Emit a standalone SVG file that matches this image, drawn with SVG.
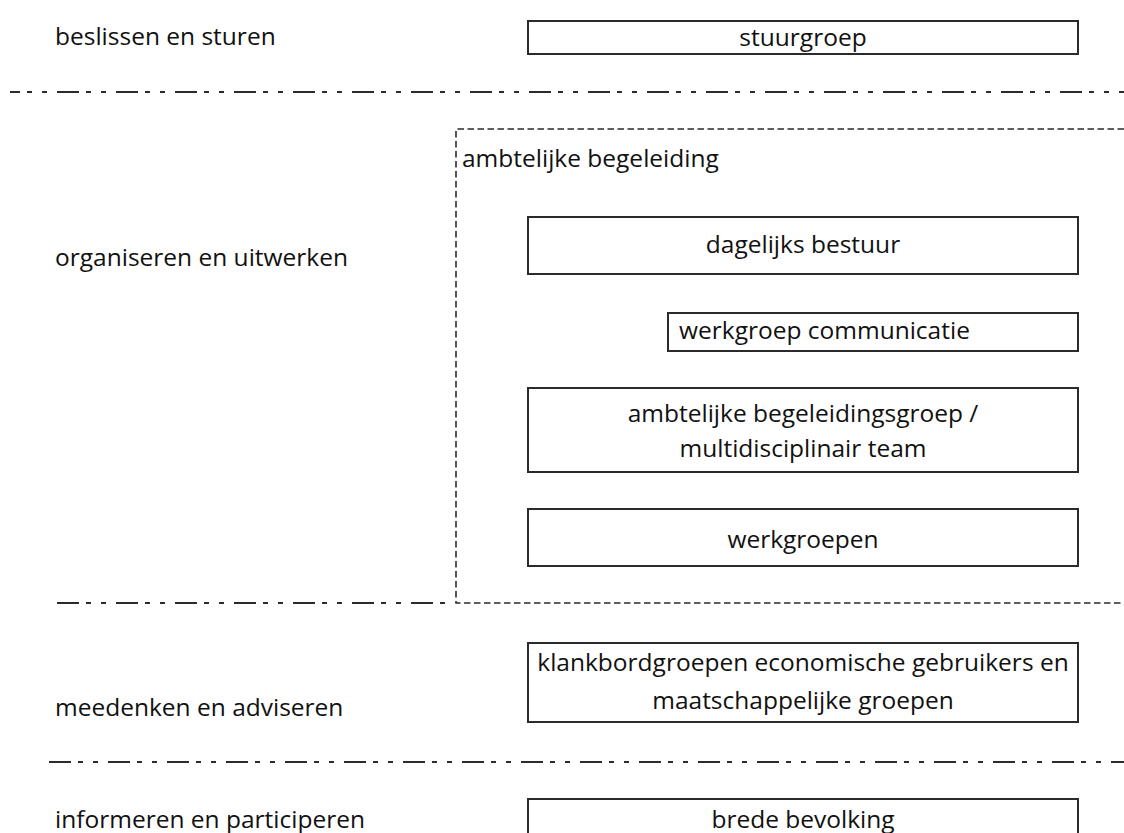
<svg xmlns="http://www.w3.org/2000/svg" width="1124" height="833" viewBox="0 0 1124 833">
<style>
text{font-family:"Open Sans","Liberation Sans",sans-serif;font-size:24.5px;fill:#111;font-variant-ligatures:none}
.c{text-anchor:middle}
.box{fill:#fff;stroke:#2b2b2b;stroke-width:2}
.sep{fill:none;stroke:#2b2b2b;stroke-width:2.2;stroke-dasharray:22 7 5 10 5 10}
.dot{fill:none;stroke:#2b2b2b;stroke-width:1.6;stroke-dasharray:6.5 3.5}
</style>
<rect width="1124" height="833" fill="#fff"/>
<g id="labels">
<text x="55" y="45">beslissen en sturen</text>
<text x="55" y="266">organiseren en uitwerken</text>
<text x="55" y="716">meedenken en adviseren</text>
<text x="55" y="828">informeren en participeren</text>
</g>
<g id="connectors">
<path class="sep" d="M10 92H1124" stroke-dashoffset="12"/>
<path class="sep" d="M57 603H455"/>
<path class="sep" d="M49 762H1124"/>
</g>
<g id="ambtelijke-begeleiding">
<path class="dot" d="M1124 129H456V603H1124"/>
<text x="462" y="167">ambtelijke begeleiding</text>
</g>
<g id="stuurgroep">
<rect class="box" x="528" y="21" width="550" height="33"/>
<text class="c" x="803" y="46">stuurgroep</text>
</g>
<g id="dagelijks-bestuur">
<rect class="box" x="528" y="217" width="550" height="57"/>
<text class="c" x="803" y="253">dagelijks bestuur</text>
</g>
<g id="werkgroep-communicatie">
<rect class="box" x="668" y="313" width="410" height="38"/>
<text x="679" y="339">werkgroep communicatie</text>
</g>
<g id="ambtelijke-begeleidingsgroep">
<rect class="box" x="528" y="388" width="550" height="84"/>
<text class="c" x="803" y="422">ambtelijke begeleidingsgroep /</text>
<text class="c" x="803" y="457">multidisciplinair team</text>
</g>
<g id="werkgroepen">
<rect class="box" x="528" y="509" width="550" height="57"/>
<text class="c" x="803" y="548">werkgroepen</text>
</g>
<g id="klankbordgroepen">
<rect class="box" x="528" y="643" width="550" height="79"/>
<text class="c" x="803" y="671">klankbordgroepen economische gebruikers en</text>
<text class="c" x="803" y="709">maatschappelijke groepen</text>
</g>
<g id="brede-bevolking">
<rect class="box" x="528" y="799" width="550" height="50"/>
<text class="c" x="803" y="828">brede bevolking</text>
</g>
</svg>
